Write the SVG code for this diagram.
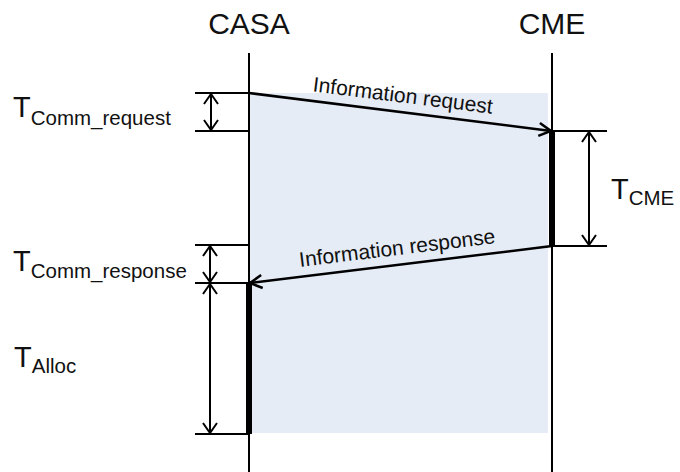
<svg xmlns="http://www.w3.org/2000/svg" width="680" height="472" viewBox="0 0 680 472">
  <style>
    .life { stroke: #000; stroke-width: 2; fill: none; }
    .bar { fill: #000; }
    .tick { stroke: #000; stroke-width: 2; fill: none; }
    .dim { stroke: #000; stroke-width: 2; fill: none; marker-start: url(#dimHead); marker-end: url(#dimHead); }
    .msg { stroke: #000; stroke-width: 2.5; fill: none; marker-end: url(#msgHead); }
    .hdr { font-family: "Liberation Sans", Arial, sans-serif; font-size: 30px; fill: #111; text-anchor: middle; }
    .lbl { font-family: "Liberation Sans", Arial, sans-serif; font-size: 21px; fill: #111; text-anchor: middle; }
    .sym { font-family: "Liberation Sans", Arial, sans-serif; font-size: 29px; fill: #111; }
    .sub { font-size: 20.5px; }
  </style>
  <defs>
    <marker id="msgHead" markerUnits="userSpaceOnUse" markerWidth="20" markerHeight="20" viewBox="-14 -10 16 20" refX="0" refY="0" orient="auto">
      <path d="M-12,-6.5 L0,0 L-12,6.5" fill="none" stroke="#000" stroke-width="2.5"/>
    </marker>
    <marker id="dimHead" markerUnits="userSpaceOnUse" markerWidth="20" markerHeight="20" viewBox="-12 -10 14 20" refX="0" refY="0" orient="auto-start-reverse">
      <path d="M-10,-7 L0,0 L-10,7" fill="none" stroke="#000" stroke-width="2"/>
    </marker>
  </defs>

  <rect width="680" height="472" fill="#fff"/>

  <!-- shaded interval between request and end of allocation -->
  <rect x="249" y="93" width="299" height="340" fill="#e6ecf6"/>

  <!-- CASA lifeline -->
  <g id="casa">
    <text class="hdr" x="249" y="34">CASA</text>
    <line class="life" x1="249" y1="53" x2="249" y2="472"/>
    <rect class="bar" x="246" y="283" width="6" height="151"/>
  </g>

  <!-- CME lifeline -->
  <g id="cme">
    <text class="hdr" x="552" y="34">CME</text>
    <line class="life" x1="552" y1="53" x2="552" y2="472"/>
    <rect class="bar" x="549" y="131" width="6" height="115"/>
  </g>

  <!-- messages -->
  <g id="connectors">
    <line class="msg" x1="249" y1="93" x2="551" y2="131"/>
    <text class="lbl" transform="translate(402 102.5) rotate(7.15)">Information request</text>
    <line class="msg" x1="552" y1="246" x2="250" y2="283"/>
    <text class="lbl" transform="translate(398 255) rotate(-6.96)">Information response</text>
  </g>

  <!-- T_Comm_request -->
  <g id="t-comm-request">
    <line class="tick" x1="195" y1="93" x2="249" y2="93"/>
    <line class="tick" x1="195" y1="131" x2="249" y2="131"/>
    <line class="dim" x1="211" y1="94" x2="211" y2="130"/>
    <text class="sym" x="13" y="117">T<tspan class="sub" dy="8">Comm_request</tspan></text>
  </g>

  <!-- T_CME -->
  <g id="t-cme">
    <line class="tick" x1="552" y1="131" x2="607" y2="131"/>
    <line class="tick" x1="552" y1="246" x2="607" y2="246"/>
    <line class="dim" x1="589" y1="132" x2="589" y2="245"/>
    <text class="sym" x="611" y="199">T<tspan class="sub" dy="6">CME</tspan></text>
  </g>

  <!-- T_Comm_response -->
  <g id="t-comm-response">
    <line class="tick" x1="195" y1="245" x2="249" y2="245"/>
    <line class="tick" x1="195" y1="283" x2="249" y2="283"/>
    <line class="dim" x1="210" y1="246" x2="210" y2="282"/>
    <text class="sym" x="13" y="271">T<tspan class="sub" dy="7">Comm_response</tspan></text>
  </g>

  <!-- T_Alloc -->
  <g id="t-alloc">
    <line class="tick" x1="195" y1="434" x2="249" y2="434"/>
    <line class="dim" x1="210" y1="284" x2="210" y2="433"/>
    <text class="sym" x="14" y="367">T<tspan class="sub" dy="6">Alloc</tspan></text>
  </g>
</svg>
